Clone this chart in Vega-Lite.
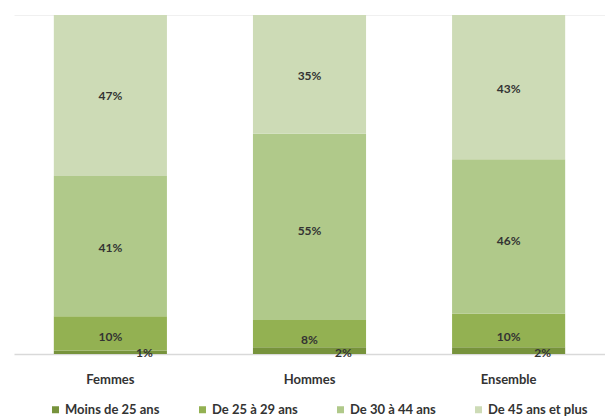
{
  "$schema": "https://vega.github.io/schema/vega-lite/v6.json",
  "width": 591,
  "height": 339,
  "autosize": {"type": "none"},
  "padding": {"left": 14, "top": 15, "right": 0, "bottom": 63},
  "background": "white",
  "config": {
    "view": {"stroke": null},
    "font": "Lato",
    "axis": {"labelFont": "Lato", "titleFont": "Lato"},
    "legend": {"labelFont": "Lato"}
  },
  "data": {
    "values": [
      {"groupe": "Femmes", "age": "Moins de 25 ans", "ordre": 1, "valeur": 1},
      {"groupe": "Femmes", "age": "De 25 à 29 ans", "ordre": 2, "valeur": 10},
      {"groupe": "Femmes", "age": "De 30 à 44 ans", "ordre": 3, "valeur": 41},
      {"groupe": "Femmes", "age": "De 45 ans et plus", "ordre": 4, "valeur": 47},
      {"groupe": "Hommes", "age": "Moins de 25 ans", "ordre": 1, "valeur": 2},
      {"groupe": "Hommes", "age": "De 25 à 29 ans", "ordre": 2, "valeur": 8},
      {"groupe": "Hommes", "age": "De 30 à 44 ans", "ordre": 3, "valeur": 55},
      {"groupe": "Hommes", "age": "De 45 ans et plus", "ordre": 4, "valeur": 35},
      {"groupe": "Ensemble", "age": "Moins de 25 ans", "ordre": 1, "valeur": 2},
      {"groupe": "Ensemble", "age": "De 25 à 29 ans", "ordre": 2, "valeur": 10},
      {"groupe": "Ensemble", "age": "De 30 à 44 ans", "ordre": 3, "valeur": 46},
      {"groupe": "Ensemble", "age": "De 45 ans et plus", "ordre": 4, "valeur": 43}
    ]
  },
  "transform": [{"calculate": "datum.valeur + '%'", "as": "etiquette"}],
  "encoding": {
    "x": {
      "field": "groupe",
      "type": "nominal",
      "sort": ["Femmes", "Hommes", "Ensemble"],
      "scale": {"paddingInner": 0.432, "paddingOuter": 0.2},
      "axis": {
        "title": null,
        "labelAngle": 0,
        "ticks": false,
        "domainColor": "#d9d9d9",
        "domainWidth": 1.5,
        "labelPadding": 19,
        "labelFontSize": 13,
        "labelFontWeight": "bold",
        "labelColor": "#333333"
      }
    },
    "order": {"field": "ordre", "type": "quantitative"}
  },
  "layer": [
    {
      "mark": {"type": "bar"},
      "encoding": {
        "y": {
          "field": "valeur",
          "type": "quantitative",
          "stack": "normalize",
          "axis": {
            "title": null,
            "labels": false,
            "ticks": false,
            "domain": false,
            "grid": true,
            "values": [1],
            "gridColor": "#f0f0f0"
          }
        },
        "color": {
          "field": "age",
          "type": "nominal",
          "sort": ["Moins de 25 ans", "De 25 à 29 ans", "De 30 à 44 ans", "De 45 ans et plus"],
          "scale": {
            "domain": ["Moins de 25 ans", "De 25 à 29 ans", "De 30 à 44 ans", "De 45 ans et plus"],
            "range": ["#77933c", "#93b152", "#b0c98a", "#cddbb6"]
          },
          "legend": {
            "title": null,
            "orient": "none",
            "legendX": 35,
            "legendY": 388,
            "direction": "horizontal",
            "symbolType": "square",
            "symbolSize": 49,
            "symbolStrokeWidth": 0,
            "labelFontSize": 13,
            "labelFontWeight": "bold",
            "labelColor": "#333333",
            "labelOffset": 3,
            "columnPadding": 36,
            "labelLimit": 200
          }
        }
      }
    },
    {
      "transform": [{"filter": "datum.ordre > 1"}],
      "mark": {"type": "text", "fontSize": 12, "fontWeight": "bold"},
      "encoding": {
        "y": {"field": "valeur", "type": "quantitative", "stack": "normalize", "bandPosition": 0.5},
        "text": {"field": "etiquette", "type": "nominal"},
        "color": {"value": "#333333"}
      }
    },
    {
      "transform": [{"filter": "datum.ordre == 1"}],
      "mark": {"type": "text", "fontSize": 12, "fontWeight": "bold", "dx": 34, "dy": -1},
      "encoding": {
        "y": {"datum": 0, "type": "quantitative"},
        "text": {"field": "etiquette", "type": "nominal"},
        "color": {"value": "#333333"}
      }
    }
  ]
}
